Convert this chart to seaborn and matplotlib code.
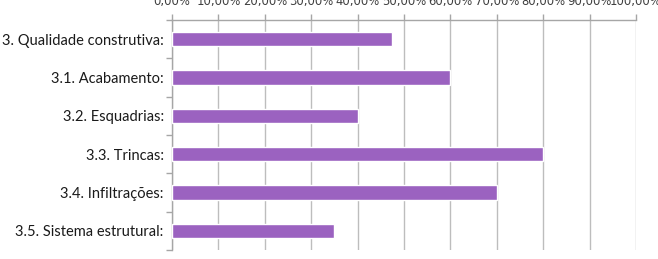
import matplotlib
matplotlib.use("Agg")
import matplotlib.pyplot as plt
import seaborn as sns
import pandas as pd
import numpy as np
from matplotlib.ticker import FixedLocator

categories = ["3. Qualidade construtiva:", "3.1. Acabamento:", "3.2. Esquadrias:",
              "3.3. Trincas:", "3.4. Infiltrações:", "3.5. Sistema estrutural:"]
values = [47.5, 60.0, 40.0, 80.0, 70.0, 35.0]
tick_values = [0, 10, 20, 30, 40, 50, 60, 70, 80, 90, 100]
tick_labels = ["0,00%", "10,00%", "20,00%", "30,00%", "40,00%", "50,00%",
               "60,00%", "70,00%", "80,00%", "90,00%", "100,00%"]

sns.set_theme(style="white")
plt.rcParams['font.family'] = ['Lato', 'DejaVu Sans']

df = pd.DataFrame({"cat": categories, "val": values})

fig = plt.figure(figsize=(6.58, 2.59), dpi=100)
ax = fig.add_axes([172/658, 1 - 250/259, (636-172)/658, 230/259])

sns.barplot(data=df, y="cat", x="val", orient="h", color="#9b62c0",
            width=0.37, saturation=1, ax=ax, zorder=3)

ax.set_xlim(0, 100)
ax.set_ylim(5.5, -0.5)
ax.set_xlabel("")
ax.set_ylabel("")

ax.xaxis.tick_top()
ax.set_xticks(tick_values)
ax.set_xticklabels(tick_labels, fontsize=8.4, color="#404040", family="DejaVu Sans")
ax.tick_params(axis="x", which="major", direction="out", length=4, width=1,
               color="#a6a6a6", pad=4.5, top=True, bottom=False)
ax.grid(axis="x", color="#bdbdbd", linewidth=1, zorder=0)

ax.yaxis.set_minor_locator(FixedLocator(np.arange(-0.5, 6.0, 1.0)))
ax.tick_params(axis="y", which="major", length=0, pad=6, labelsize=10.5, labelcolor="#1a1a1a")
ax.tick_params(axis="y", which="minor", direction="out", length=4, width=1,
               color="#a6a6a6", left=True)

for s in ["right", "bottom"]:
    ax.spines[s].set_visible(False)
for s in ["left", "top"]:
    ax.spines[s].set_color("#a6a6a6")
    ax.spines[s].set_linewidth(1)

fig.savefig("out.png", dpi=100)
